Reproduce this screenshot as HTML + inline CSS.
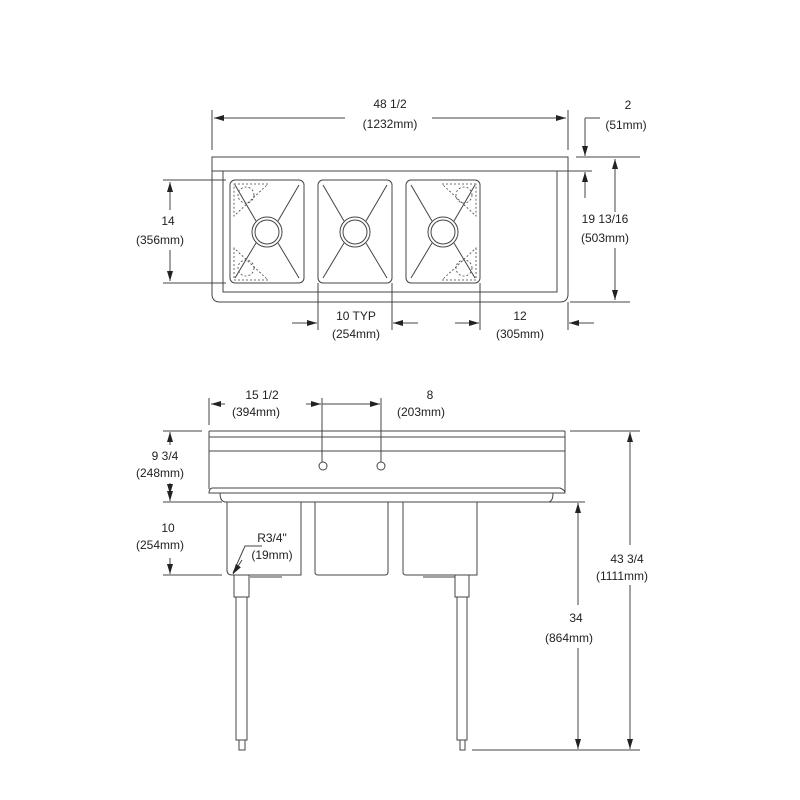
<!DOCTYPE html>
<html><head><style>body{margin:0;background:#fff}svg{display:block}text{font-family:"Liberation Sans",sans-serif;font-size:12px;fill:#222;text-anchor:middle}</style></head><body>
<svg width="800" height="800" viewBox="0 0 800 800" xmlns="http://www.w3.org/2000/svg">
<defs>
<marker id="a" viewBox="0 0 10 6" refX="10" refY="3" markerWidth="10" markerHeight="6" orient="auto-start-reverse" markerUnits="userSpaceOnUse"><path d="M0,0 L10,3 L0,6z" fill="#222"/></marker>
</defs>
<g stroke="#444" stroke-width="1" fill="none">
<!-- TOP VIEW -->
<path d="M212,157 H568 V294 Q568,302 560,302 H220 Q212,302 212,294 Z"/>
<line x1="212" y1="171" x2="592" y2="171"/>
<path d="M223,171 V292 H557 V171"/>
<!-- bowls -->
<g id="b1">
<rect x="230" y="180" width="74" height="103" rx="5"/>
<line x1="235" y1="185" x2="256" y2="221"/><line x1="299" y1="185" x2="278" y2="221"/>
<line x1="235" y1="278" x2="256" y2="243"/><line x1="299" y1="278" x2="278" y2="243"/>
<circle cx="267" cy="232" r="15"/><circle cx="267" cy="232" r="12"/>
</g>
<g stroke-dasharray="2,2" stroke-width="0.8">
<path d="M234,184 H268 L234,216 Z"/><circle cx="246" cy="195" r="8"/>
<path d="M234,248 V280 H268 Z"/><circle cx="246" cy="268" r="8"/>
<path d="M476,184 H442 L476,216 Z"/><circle cx="464" cy="195" r="8"/>
<path d="M476,248 V280 H442 Z"/><circle cx="464" cy="268" r="8"/>
</g>
<use href="#b1" x="88"/>
<use href="#b1" x="176"/>
<!-- top dims -->
<line x1="212" y1="110" x2="212" y2="150"/><line x1="568" y1="110" x2="568" y2="150"/>
<line x1="345" y1="118" x2="214" y2="118" marker-end="url(#a)"/>
<line x1="432" y1="118" x2="566" y2="118" marker-end="url(#a)"/>
<line x1="576" y1="157" x2="640" y2="157"/>
<line x1="585" y1="118" x2="600" y2="118"/>
<line x1="585" y1="118" x2="585" y2="156" marker-end="url(#a)"/>
<line x1="585" y1="198" x2="585" y2="172" marker-end="url(#a)"/>
<line x1="615" y1="212" x2="615" y2="159" marker-end="url(#a)"/>
<line x1="615" y1="248" x2="615" y2="300" marker-end="url(#a)"/>
<line x1="570" y1="302" x2="630" y2="302"/>
<line x1="163" y1="180" x2="226" y2="180"/><line x1="163" y1="283" x2="226" y2="283"/>
<line x1="170" y1="210" x2="170" y2="182" marker-end="url(#a)"/>
<line x1="170" y1="250" x2="170" y2="281" marker-end="url(#a)"/>
<line x1="318" y1="283" x2="318" y2="330"/><line x1="392" y1="283" x2="392" y2="330"/>
<line x1="480" y1="283" x2="480" y2="330"/><line x1="568" y1="302" x2="568" y2="330"/>
<line x1="292" y1="323" x2="317" y2="323" marker-end="url(#a)"/>
<line x1="418" y1="323" x2="393" y2="323" marker-end="url(#a)"/>
<line x1="455" y1="323" x2="479" y2="323" marker-end="url(#a)"/>
<line x1="594" y1="323" x2="569" y2="323" marker-end="url(#a)"/>
<!-- FRONT VIEW -->
<line x1="209" y1="431" x2="565" y2="431"/>
<line x1="209" y1="437" x2="565" y2="437"/>
<line x1="209" y1="451" x2="565" y2="451"/>
<line x1="209" y1="431" x2="209" y2="489"/><line x1="565" y1="431" x2="565" y2="492"/>
<path d="M212,488 H560 Q565,490 565,493 H209 Q209,489 212,488"/>
<path d="M220,493 Q220,502 226,502 H548 Q553,502 553,493"/>
<line x1="480" y1="502" x2="585" y2="502"/>
<circle cx="323" cy="466" r="4"/><circle cx="381" cy="466" r="4"/>
<path d="M227,502 V570 Q227,575 232,575 H301 V502"/>
<path d="M315,502 V572 Q315,575 318,575 H385 Q388,575 388,572 V502"/>
<path d="M403,502 V572 Q403,575 406,575 H477 V502"/>
<line x1="250" y1="577" x2="282" y2="577"/><line x1="423" y1="577" x2="455" y2="577"/>
<path d="M234,575 V597 H249 V575"/>
<path d="M236,597 V740 H247 V597"/>
<path d="M239,740 V750 H245 V740"/>
<path d="M455,575 V597 H469 V575"/>
<path d="M457,597 V740 H467 V597"/>
<path d="M460,740 V750 H465 V740"/>
<line x1="472" y1="750" x2="640" y2="750"/>
<line x1="570" y1="431" x2="640" y2="431"/>
<!-- front dims -->
<line x1="209" y1="398" x2="209" y2="425"/>
<line x1="225" y1="404" x2="211" y2="404" marker-end="url(#a)"/>
<line x1="306" y1="404" x2="321" y2="404" marker-end="url(#a)"/>
<line x1="322" y1="404" x2="380" y2="404" marker-end="url(#a)"/>
<line x1="322" y1="398" x2="322" y2="462"/><line x1="381" y1="398" x2="381" y2="462"/>
<line x1="163" y1="431" x2="202" y2="431"/>
<line x1="163" y1="502" x2="222" y2="502"/>
<line x1="163" y1="575" x2="222" y2="575"/>
<line x1="170" y1="445" x2="170" y2="432" marker-end="url(#a)"/>
<line x1="170" y1="483" x2="170" y2="494" marker-end="url(#a)"/>
<line x1="170" y1="492" x2="170" y2="501" marker-end="url(#a)"/>
<line x1="170" y1="558" x2="170" y2="574" marker-end="url(#a)"/>
<line x1="578" y1="605" x2="578" y2="503" marker-end="url(#a)"/>
<line x1="578" y1="648" x2="578" y2="749" marker-end="url(#a)"/>
<line x1="630" y1="545" x2="630" y2="432" marker-end="url(#a)"/>
<line x1="630" y1="585" x2="630" y2="749" marker-end="url(#a)"/>
<polyline points="262,546 245,546 233,573" />
<line x1="242" y1="560" x2="233" y2="574" marker-end="url(#a)"/>
</g>
<text x="390" y="108">48 1/2</text><text x="390" y="128">(1232mm)</text>
<text x="628" y="109">2</text><text x="626" y="129">(51mm)</text>
<text x="605" y="223">19 13/16</text><text x="605" y="242">(503mm)</text>
<text x="168" y="225">14</text><text x="160" y="244">(356mm)</text>
<text x="356" y="320">10 TYP</text><text x="356" y="338">(254mm)</text>
<text x="520" y="320">12</text><text x="520" y="338">(305mm)</text>
<text x="262" y="399">15 1/2</text><text x="256" y="416">(394mm)</text>
<text x="430" y="399">8</text><text x="421" y="416">(203mm)</text>
<text x="165" y="460">9 3/4</text><text x="160" y="477">(248mm)</text>
<text x="168" y="532">10</text><text x="160" y="549">(254mm)</text>
<text x="272" y="542">R3/4"</text><text x="272" y="559">(19mm)</text>
<text x="576" y="622">34</text><text x="569" y="642">(864mm)</text>
<text x="627" y="563">43 3/4</text><text x="622" y="580">(1111mm)</text>
</svg>
</body></html>
